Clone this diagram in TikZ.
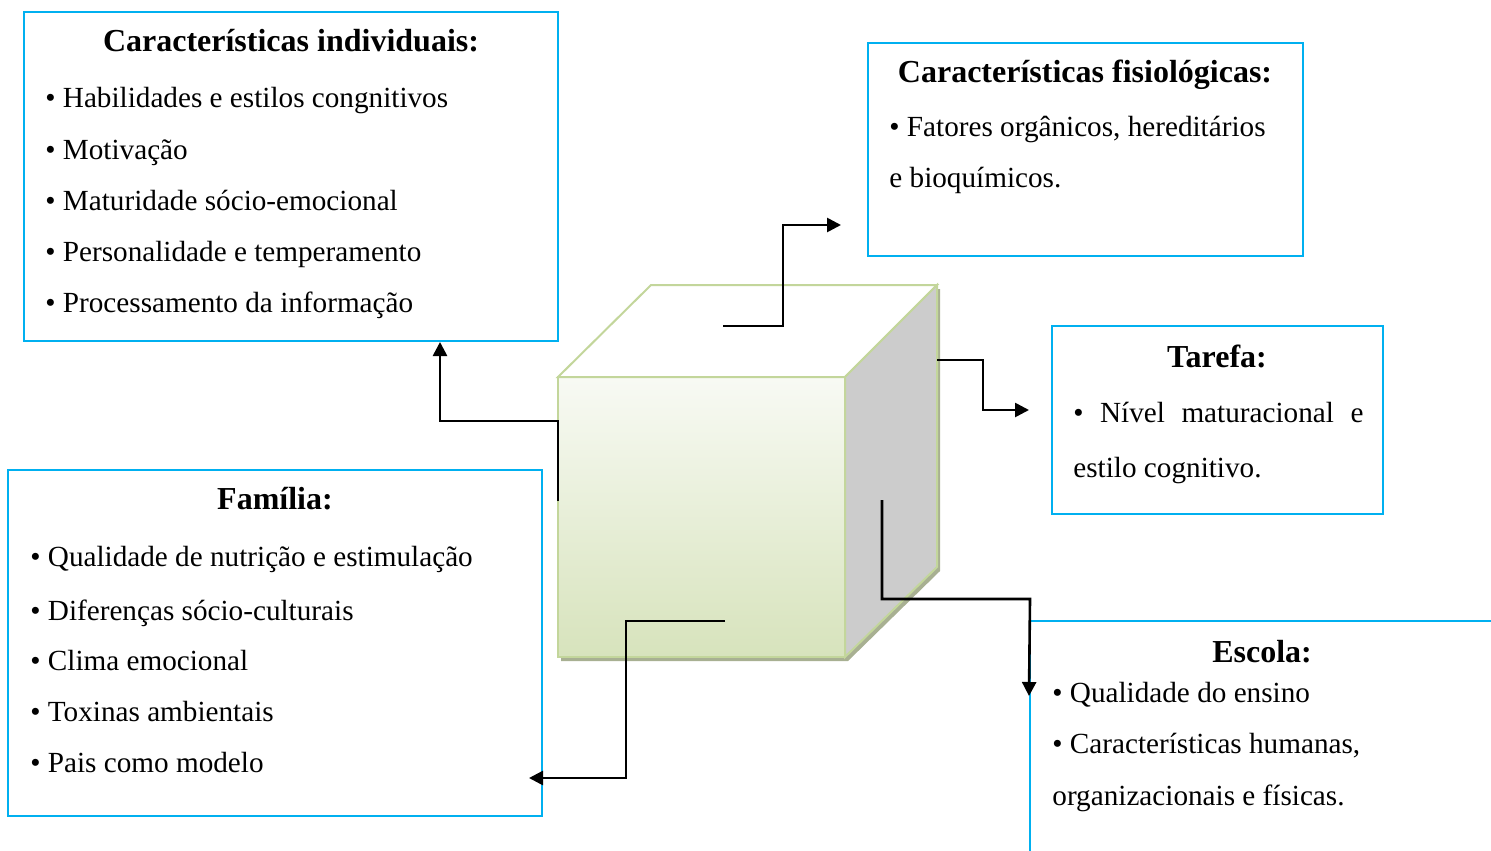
\documentclass[tikz,border=0pt]{standalone}
\usepackage{fontspec}
\setmainfont{Liberation Serif}
\usetikzlibrary{arrows.meta,positioning,calc}
\definecolor{boxcyan}{HTML}{00B0F0}
\definecolor{cubeedge}{HTML}{C3D69B}
\definecolor{cubelight}{HTML}{F8FAF4}
\definecolor{cubegreen}{HTML}{D7E3BC}
\definecolor{cubeside}{HTML}{CCCCCC}
\definecolor{cubeshadow}{HTML}{A8B092}

\tikzset{
  infobox/.style={draw=boxcyan, line width=1pt, inner sep=0pt},
  boxtitle/.style={font=\fontsize{16}{18}\selectfont\bfseries, anchor=base, inner sep=0pt},
  boxitem/.style={font=\fontsize{14.6}{17}\selectfont, anchor=base west, inner sep=0pt},
  link/.style={line width=1.3pt, -{Triangle[length=7pt,width=7pt]}}
}

\begin{document}
\begin{tikzpicture}[x=0.5pt, y=-0.5pt]
    \useasboundingbox (0,0) rectangle (1491,850);
    \clip (0,0) rectangle (1491,850);

    % Individual characteristics
    \node[infobox, minimum width=267pt, minimum height=164.5pt] (ind) at (291,176.5) {};
    \node[boxtitle] (indt) at (291,52) {Características individuais:};
    \node[boxitem] (ind1) at (45,108) {• Habilidades e estilos congnitivos};
    \node[boxitem] (ind2) at (45,160) {• Motivação};
    \node[boxitem] (ind3) at (45,211) {• Maturidade sócio-emocional};
    \node[boxitem] (ind4) at (45,261) {• Personalidade e temperamento};
    \node[boxitem] (ind5) at (45,312) {• Processamento da informação};

    % Physiological characteristics
    \node[infobox, minimum width=217.5pt, minimum height=106.5pt] (fis) at (1085.5,149.5) {};
    \node[boxtitle] (fist) at (1085,83) {Características fisiológicas:};
    \node[boxitem] (fis1) at (889,137) {• Fatores orgânicos, hereditários};
    \node[boxitem] (fis2) at (889,188) {e bioquímicos.};

    % Task
    \node[infobox, minimum width=165.5pt, minimum height=94pt] (tar) at (1217.5,420) {};
    \node[boxtitle] (tart) at (1217,367) {Tarefa:};
    \node[boxitem, text width=145pt] (tar1) at (1073,422) {•\hfill Nível\hfill maturacional\hfill e};
    \node[boxitem] (tar2) at (1073,477) {estilo cognitivo.};

    % Family
    \node[infobox, minimum width=267pt, minimum height=173pt] (fam) at (275,643) {};
    \node[boxtitle] (famt) at (275,509) {Família:};
    \node[boxitem] (fam1) at (30,566) {• Qualidade de nutrição e estimulação};
    \node[boxitem] (fam2) at (30,620) {• Diferenças sócio-culturais};
    \node[boxitem] (fam3) at (30,670) {• Clima emocional};
    \node[boxitem] (fam4) at (30,721) {• Toxinas ambientais};
    \node[boxitem] (fam5) at (30,772) {• Pais como modelo};

    % School
    \node[infobox, minimum width=245pt, minimum height=129.5pt] (esc) at (1275,750.5) {};
    \node[boxtitle] (esct) at (1262,662) {Escola:};
    \node[boxitem] (esc1) at (1052,702) {• Qualidade do ensino};
    \node[boxitem] (esc2) at (1052,753) {• Características humanas,};
    \node[boxitem] (esc3) at (1052,805) {organizacionais e físicas.};

    % Cube
    \coordinate (fa) at (558,377);
    \coordinate (fb) at (845,377);
    \coordinate (fc) at (845,657);
    \coordinate (fd) at (558,657);
    \coordinate (ta) at (651,285);
    \coordinate (tb) at (937,285);
    \coordinate (rc) at (937,567);
    \fill[cubeshadow] ($(fa)+(3,4)$) -- ($(ta)+(3,4)$) -- ($(tb)+(3,4)$) -- ($(rc)+(3,4)$)
        -- ($(fc)+(3,4)$) -- ($(fd)+(3,4)$) -- cycle;
    \draw[top color=cubelight, bottom color=cubegreen, draw=cubeedge, line width=1pt] (fa) rectangle (fc);
    \draw[fill=white, draw=cubeedge, line width=1pt] (fa) -- (ta) -- (tb) -- (fb) -- cycle;
    \draw[fill=cubeside, draw=cubeedge, line width=1pt] (fb) -- (tb) -- (rc) -- (fc) -- cycle;

    % Connectors
    \coordinate (s1) at (558,501);
    \coordinate (k1) at (440,421);
    \coordinate (s2) at (723,326);
    \coordinate (k2) at (783,225);
    \coordinate (s3) at (937,360);
    \coordinate (k3) at (983,410);
    \coordinate (s4) at (882,500);
    \coordinate (k4) at (1030,599);
    \coordinate (s5) at (725,621);
    \coordinate (k5) at (626,778);
    \draw[link] (s1) |- (k1) -- (k1 |- ind.south);
    \draw[link] (s2) -| (k2) -- ($(fis.west |- k2)+(-26,0)$);
    \draw[link] (s3) -| (k3) -- ($(tar.west |- k3)+(-22,0)$);
    \draw[link] (s4) |- (k4) -- ($(esc.north west)+(0,76)$);
    \draw[link] (s5) -| (k5) -- ($(fam.east |- k5)+(-14,0)$);
\end{tikzpicture}
\end{document}
